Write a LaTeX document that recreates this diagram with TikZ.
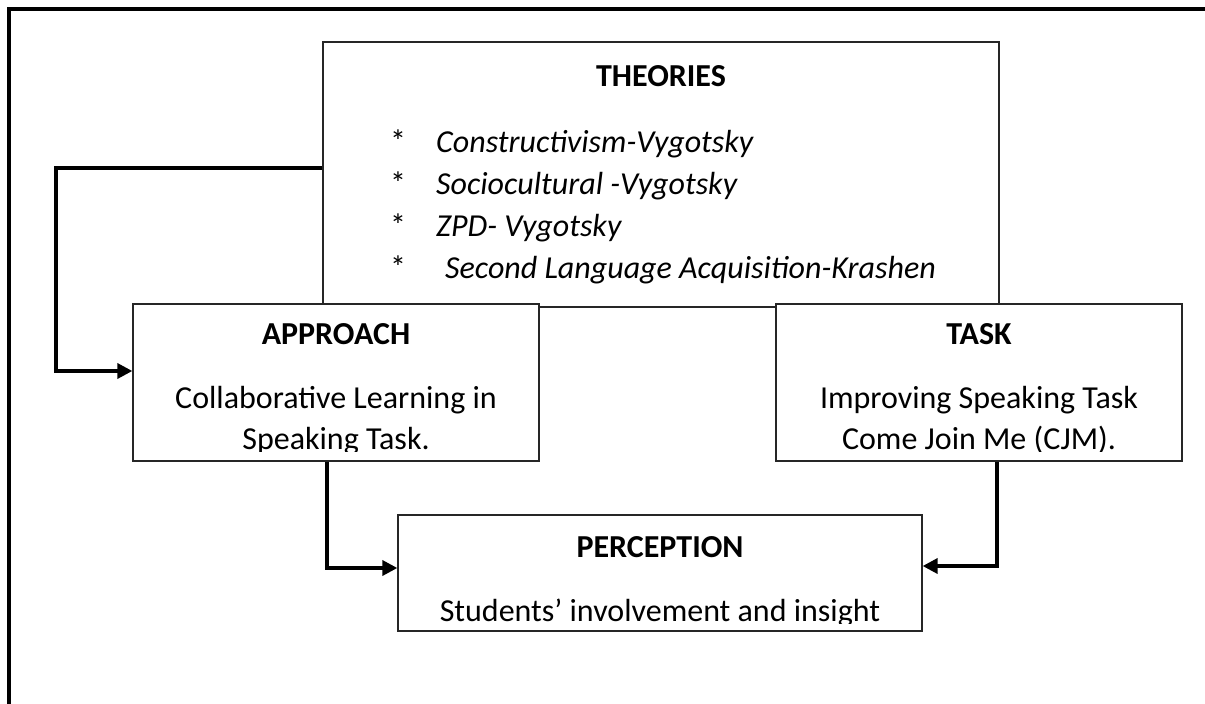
\documentclass[tikz,border=0pt]{standalone}
\usepackage{fontspec}
\setmainfont{Carlito}
\usetikzlibrary{arrows.meta}
\tikzset{
  box/.style={draw=black!85, line width=1.3pt, fill=white, inner sep=0pt},
  frameline/.style={line width=3.5pt},
  conn/.style={line width=3.5pt, -{Triangle[length=15pt,width=15pt]}},
  txt/.style={inner sep=0pt, font=\fontsize{32}{41}\selectfont},
  ttl/.style={txt, font=\fontsize{32}{41}\selectfont\bfseries},
  itx/.style={txt, font=\fontsize{32}{41}\selectfont\itshape},
}
\begin{document}
\begin{tikzpicture}[x=1pt,y=-1pt]
\useasboundingbox (0,0) rectangle (1205,704);
\begin{scope}
\clip (0,0) rectangle (1205,704);
\draw[frameline] (9,720) -- (9,9) -- (1220,9);
\end{scope}

% THEORIES box
\node[box, minimum width=676pt, minimum height=265pt] (theories) at (661,174.5) {};
\node[ttl, anchor=base] (thT) at (661,86) {THEORIES};
\node[txt, anchor=base west] (s1) at (390,152) {*};
\node[txt, anchor=base west] (s2) at (390,194) {*};
\node[txt, anchor=base west] (s3) at (390,236) {*};
\node[txt, anchor=base west] (s4) at (390,278) {*};
\node[itx, anchor=base west] (l1) at (436,152) {Constructivism-Vygotsky};
\node[itx, anchor=base west] (l2) at (436,194) {Sociocultural -Vygotsky};
\node[itx, anchor=base west] (l3) at (436,236) {ZPD- Vygotsky};
\node[itx, anchor=base west] (l4) at (445,278) {Second Language Acquisition-Krashen};

% APPROACH box
\node[box, minimum width=406pt, minimum height=157pt] (approach) at (336,382.5) {};
\node[ttl, anchor=base] (apT) at (336,344) {APPROACH};
\begin{scope}
\clip (133,304) rectangle (539,451);
\node[txt, anchor=base] (ap1) at (336,408) {Collaborative Learning in};
\node[txt, anchor=base] (ap2) at (336,449) {Speaking Task.};
\end{scope}

% TASK box
\node[box, minimum width=406pt, minimum height=157pt] (task) at (979,382.5) {};
\node[ttl, anchor=base] (tkT) at (979,344) {TASK};
\begin{scope}
\clip (776,304) rectangle (1182,451);
\node[txt, anchor=base] (tk1) at (979,408) {Improving Speaking Task};
\node[txt, anchor=base] (tk2) at (979,449) {Come Join Me (CJM).};
\end{scope}

% PERCEPTION box
\node[box, minimum width=524pt, minimum height=116pt] (perception) at (660,573) {};
\node[ttl, anchor=base] (peT) at (660,557) {PERCEPTION};
\begin{scope}
\clip (398,515) rectangle (922,623);
\node[txt, anchor=base] (pe1) at (660,621) {Students’ involvement and insight};
\end{scope}

% connectors
\coordinate (t1) at (56,168);
\coordinate (a1) at (56,371);
\draw[conn] (theories.west |- t1) -- (t1) -- (a1) -- (approach.west |- a1);
\coordinate (b1) at (327,568);
\draw[conn] (approach.south -| b1) -- (b1) -- (perception.west |- b1);
\coordinate (b2) at (997,566);
\draw[conn] (task.south -| b2) -- (b2) -- (perception.east |- b2);
\end{tikzpicture}
\end{document}
